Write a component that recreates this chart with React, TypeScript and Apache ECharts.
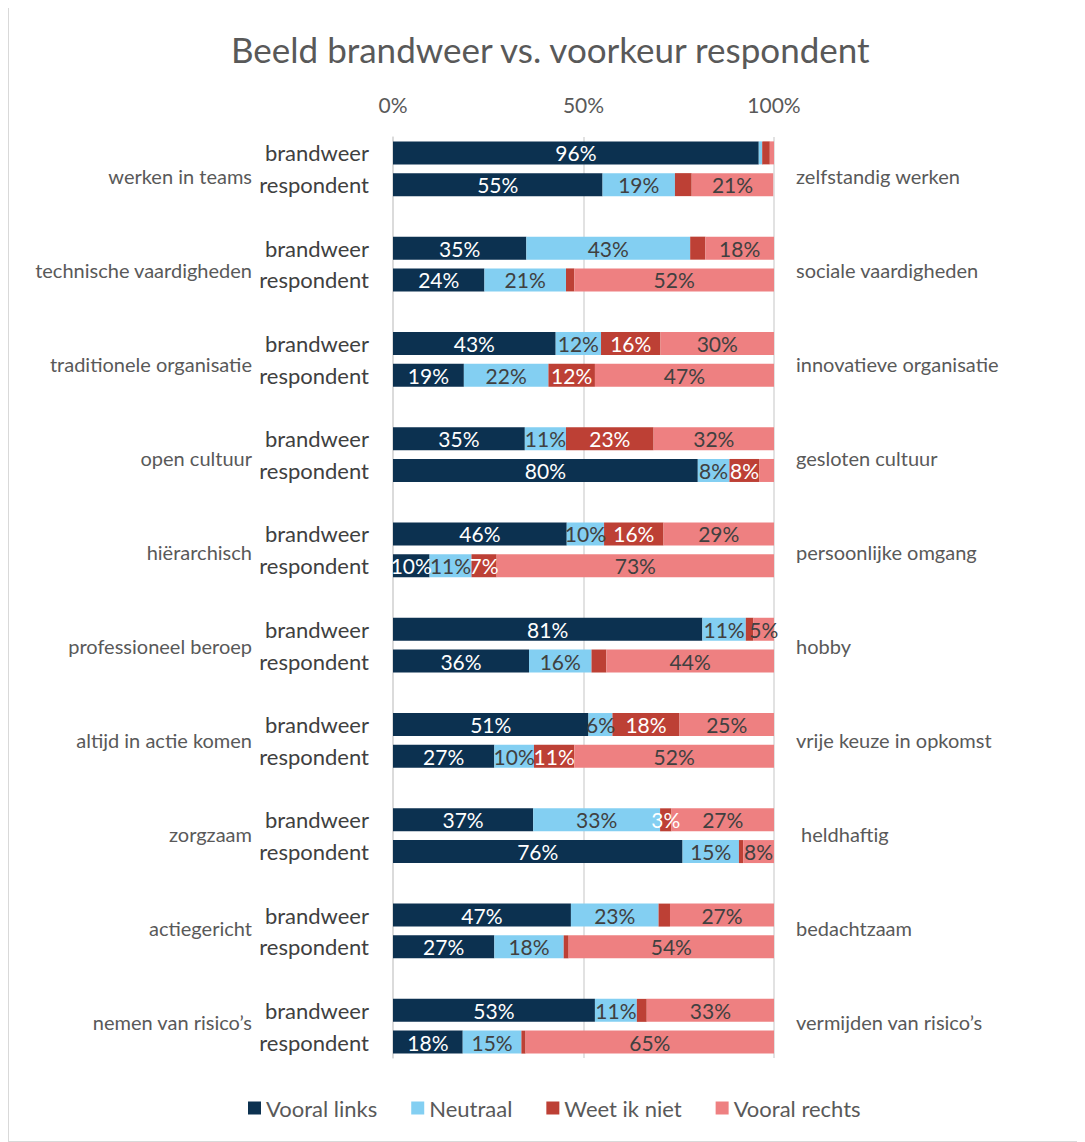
import React, { useEffect, useRef } from "react";
import * as echarts from "echarts";

const titleText = "Beeld brandweer vs. voorkeur respondent";
const seriesNames = ["Vooral links", "Neutraal", "Weet ik niet", "Vooral rechts"];
const seriesColors = ["#0c3150", "#83cff2", "#bd4035", "#ee8081"];
const labelColors = ["#ffffff", "#404040", "#ffffff", "#404040"];
const rowLabels = ["brandweer", "respondent"];
const groupsLeft = [
  "werken in teams",
  "technische vaardigheden",
  "traditionele organisatie",
  "open cultuur",
  "hiërarchisch",
  "professioneel beroep",
  "altijd in actie komen",
  "zorgzaam",
  "actiegericht",
  "nemen van risico’s",
];
const groupsRight = [
  "zelfstandig werken",
  "sociale vaardigheden",
  "innovatieve organisatie",
  "gesloten cultuur",
  "persoonlijke omgang",
  "hobby",
  "vrije keuze in opkomst",
  " heldhaftig",
  "bedachtzaam",
  "vermijden van risico’s",
];

// values per series: [brandweer, respondent] per group
const linksBrandweer = [96, 35, 42.7, 34.6, 45.6, 81.2, 51.3, 36.8, 46.7, 53];
const linksRespondent = [55, 24, 18.6, 80, 9.6, 35.7, 26.6, 76, 26.6, 18.3];
const neutraalBrandweer = [0.9, 43, 11.9, 10.8, 9.8, 11.4, 6.3, 33.3, 23, 11];
const neutraalRespondent = [19, 21.4, 22.2, 8.3, 11, 16.4, 10.4, 14.8, 18.2, 15.4];
const weetBrandweer = [2, 4, 15.6, 23, 15.6, 2, 17.6, 3, 3, 2.6];
const weetRespondent = [4.4, 2.2, 12.2, 7.9, 6.6, 3.9, 10.6, 1.1, 1.3, 1.1];
const rechtsBrandweer = [1.1, 18, 29.8, 31.6, 29, 5.4, 24.8, 26.9, 27.3, 33.4];
const rechtsRespondent = [21.4, 52.4, 47, 3.8, 72.8, 44, 52.4, 8.1, 53.9, 65.2];

const xTicks = [0, 50, 100];
// labels shown although small (series index, group index, row index)
const forcedLabels = [{ series: 2, group: 7, row: 0 }];
const labelThreshold = 4.5;

const seriesValues = [
  [linksBrandweer, linksRespondent],
  [neutraalBrandweer, neutraalRespondent],
  [weetBrandweer, weetRespondent],
  [rechtsBrandweer, rechtsRespondent],
];

export default function App() {
  const ref = useRef<HTMLDivElement>(null);
  useEffect(() => {
    if (!ref.current) return;
    const chart = echarts.init(ref.current, null, { renderer: "svg" });
    const FONT = "Lato";
    const nGroups = groupsLeft.length;
    const slots: string[] = [];
    for (let g = 0; g < nGroups; g++) {
      slots.push("b" + g, "r" + g);
      if (g < nGroups - 1) slots.push("gap" + g);
    }
    const series = seriesNames.map((name, si) => ({
      name,
      type: "bar",
      stack: "total",
      barWidth: 23,
      xAxisIndex: 0,
      yAxisIndex: 0,
      itemStyle: { color: seriesColors[si] },
      label: {
        show: true,
        position: "inside",
        color: labelColors[si],
        fontFamily: FONT,
        fontSize: 21,
        formatter: (p: any) => Math.round(p.value) + "%",
      },
      data: slots.map((s, k) => {
        const g = Math.floor(k / 3);
        const r = k % 3;
        if (r === 2) return "-";
        const v = seriesValues[si][r][g];
        const forced = forcedLabels.some((f) => f.series === si && f.group === g && f.row === r);
        return { value: v, label: { show: v >= labelThreshold || forced } };
      }),
    }));

    chart.setOption({
      animation: false,
      title: {
        text: titleText,
        left: 217,
        top: 20,
        textStyle: { fontFamily: FONT, fontSize: 35, fontWeight: "normal", color: "#595959" },
      },
      legend: {
        data: seriesNames,
        left: 234,
        top: 1086,
        icon: "rect",
        itemWidth: 13,
        itemHeight: 13,
        itemGap: 34,
        textStyle: { fontFamily: FONT, fontSize: 22, color: "#595959" },
      },
      grid: [
        { left: 384, top: 131, width: 381, height: 921 },
        { left: 384, top: 122.5, width: 381, height: 940 },
      ],
      xAxis: [
        {
          type: "value",
          gridIndex: 0,
          position: "top",
          min: 0,
          max: 100,
          interval: 50,
          axisLine: { show: false },
          axisTick: { show: false },
          splitLine: { show: true, lineStyle: { color: "#d9d9d9", width: 1.5 } },
          axisLabel: {
            margin: 22,
            fontFamily: FONT,
            fontSize: 21,
            color: "#595959",
            formatter: (v: number) => (xTicks.includes(v) ? v + "%" : ""),
          },
        },
        { type: "value", gridIndex: 1, min: 0, max: 1, show: false },
      ],
      yAxis: [
        {
          type: "category",
          gridIndex: 0,
          inverse: true,
          data: slots,
          axisLine: { show: true, lineStyle: { color: "#d9d9d9", width: 1.5 } },
          axisTick: { show: false },
          axisLabel: {
            margin: 24,
            interval: 0,
            fontFamily: FONT,
            fontSize: 22,
            color: "#404040",
            formatter: (s: string) => (s[0] === "b" ? rowLabels[0] : s[0] === "r" ? rowLabels[1] : ""),
          },
        },
        {
          type: "category",
          gridIndex: 1,
          inverse: true,
          position: "left",
          data: groupsLeft,
          axisLine: { show: false },
          axisTick: { show: false },
          axisLabel: { margin: 141, interval: 0, fontFamily: FONT, fontSize: 20, color: "#595959" },
        },
        {
          type: "category",
          gridIndex: 1,
          inverse: true,
          position: "right",
          data: groupsRight,
          axisLine: { show: false },
          axisTick: { show: false },
          axisLabel: { margin: 22, interval: 0, fontFamily: FONT, fontSize: 20, color: "#595959" },
        },
      ],
      series,
    });
    return () => chart.dispose();
  }, []);

  return (
    <div
      style={{
        marginTop: -3,
        width: 1070,
        height: 1137,
        boxSizing: "border-box",
        border: "1px solid #d9d9d9",
        background: "#fff",
      }}
    >
      <div ref={ref} style={{ width: 1068, height: 1135 }} />
    </div>
  );
}
